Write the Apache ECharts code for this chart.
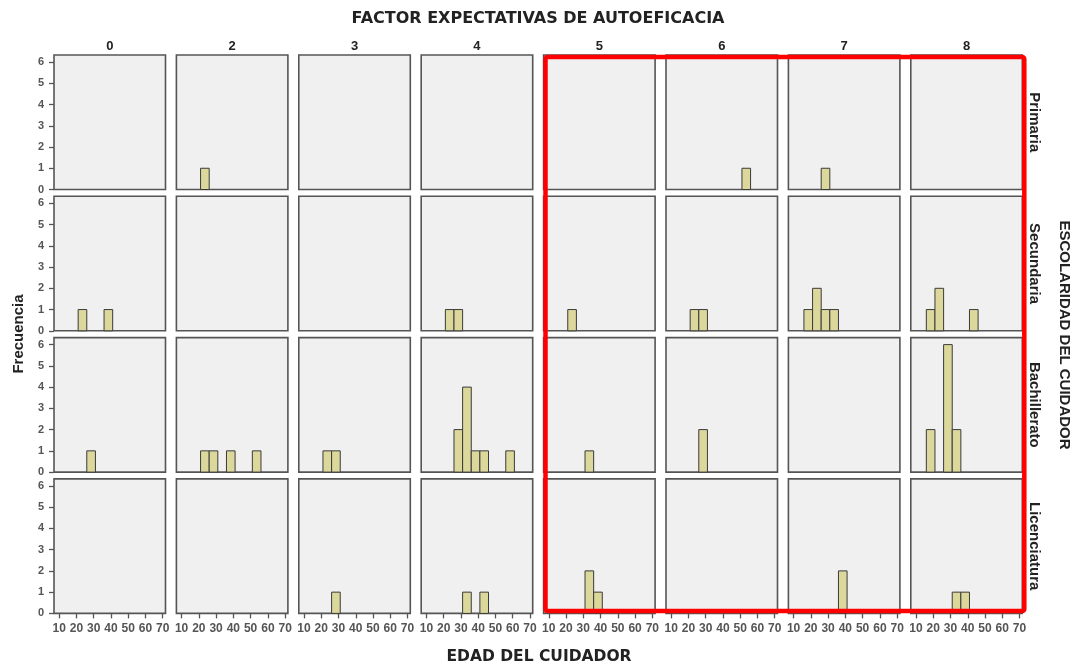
<!DOCTYPE html>
<html>
<head>
<meta charset="utf-8">
<script src="https://cdn.jsdelivr.net/npm/echarts@6/dist/echarts.min.js"></script>
<style>html,body{margin:0;padding:0;background:#fff;}#chart{width:1072px;height:664px;}</style>
</head>
<body>
<div id="chart"></div>
<script>
// Column facets (FACTOR EXPECTATIVAS DE AUTOEFICACIA)
var factorLevels = ['0', '2', '3', '4', '5', '6', '7', '8'];
// Row facets (ESCOLARIDAD DEL CUIDADOR)
var schoolLevels = ['Primaria', 'Secundaria', 'Bachillerato', 'Licenciatura'];
// Histogram bins of EDAD DEL CUIDADOR (start of each bin), width 5
var binStarts = [16, 21, 26, 31, 36, 41, 46, 51, 56, 61];
var binWidth = 5;
var xTicks = [10, 20, 30, 40, 50, 60, 70];
var yTicks = [0, 1, 2, 3, 4, 5, 6];

// Counts per bin, one array per factor level, for each schooling level
var primaria = [
  [0,0,0,0,0,0,0,0,0,0],
  [0,1,0,0,0,0,0,0,0,0],
  [0,0,0,0,0,0,0,0,0,0],
  [0,0,0,0,0,0,0,0,0,0],
  [0,0,0,0,0,0,0,0,0,0],
  [0,0,0,0,0,0,0,1,0,0],
  [0,0,1,0,0,0,0,0,0,0],
  [0,0,0,0,0,0,0,0,0,0]
];
var secundaria = [
  [0,1,0,0,1,0,0,0,0,0],
  [0,0,0,0,0,0,0,0,0,0],
  [0,0,0,0,0,0,0,0,0,0],
  [0,1,1,0,0,0,0,0,0,0],
  [0,1,0,0,0,0,0,0,0,0],
  [0,1,1,0,0,0,0,0,0,0],
  [1,2,1,1,0,0,0,0,0,0],
  [1,2,0,0,0,1,0,0,0,0]
];
var bachillerato = [
  [0,0,1,0,0,0,0,0,0,0],
  [0,1,1,0,1,0,0,1,0,0],
  [0,1,1,0,0,0,0,0,0,0],
  [0,0,2,4,1,1,0,0,1,0],
  [0,0,0,1,0,0,0,0,0,0],
  [0,0,2,0,0,0,0,0,0,0],
  [0,0,0,0,0,0,0,0,0,0],
  [2,0,6,2,0,0,0,0,0,0]
];
var licenciatura = [
  [0,0,0,0,0,0,0,0,0,0],
  [0,0,0,0,0,0,0,0,0,0],
  [0,0,1,0,0,0,0,0,0,0],
  [0,0,0,1,0,1,0,0,0,0],
  [0,0,0,2,1,0,0,0,0,0],
  [0,0,0,0,0,0,0,0,0,0],
  [0,0,0,0,2,0,0,0,0,0],
  [0,0,0,1,1,0,0,0,0,0]
];
var rowsData = [primaria, secundaria, bachillerato, licenciatura];

var colLeft0 = 54, colPitch = 122.4, panelW = 111.5;
var rowTop0 = 55, rowPitch = 141.3, panelH = 134.5;
var FONT = '"Liberation Sans", Arial, sans-serif';
var FONT_WIDE = '"DejaVu Sans", "Liberation Sans", sans-serif';

var grids = [], xAxes = [], yAxes = [], series = [], graphics = [];
for (var r = 0; r < schoolLevels.length; r++) {
  for (var c = 0; c < factorLevels.length; c++) {
    var idx = r * factorLevels.length + c;
    grids.push({
      left: colLeft0 + c * colPitch, top: rowTop0 + r * rowPitch, width: panelW, height: panelH,
      show: true, backgroundColor: '#f0f0f0', borderColor: '#555555', borderWidth: 1.6
    });
    var bottomRow = (r === schoolLevels.length - 1);
    xAxes.push({
      type: 'value', gridIndex: idx, min: 7, max: 71.6,
      axisLine: {show: false},
      axisTick: {show: bottomRow, customValues: xTicks, length: 5, lineStyle: {color: '#555', width: 1.3}},
      axisLabel: {show: bottomRow, customValues: xTicks, color: '#555', fontSize: 12, fontWeight: 'bold', fontFamily: FONT, margin: 9},
      splitLine: {show: false}
    });
    var firstCol = (c === 0);
    yAxes.push({
      type: 'value', gridIndex: idx, min: 0, max: 6.33,
      axisLine: {show: false},
      axisTick: {show: firstCol, customValues: yTicks, length: 5, lineStyle: {color: '#555', width: 1.3}},
      axisLabel: {show: firstCol, customValues: yTicks, color: '#555', fontSize: 11, fontWeight: 'bold', fontFamily: FONT, margin: 10},
      splitLine: {show: false}
    });
    var counts = rowsData[r][c];
    var data = [];
    for (var b = 0; b < binStarts.length; b++) {
      if (counts[b] > 0) data.push([binStarts[b], binStarts[b] + binWidth, counts[b]]);
    }
    series.push({
      type: 'custom', xAxisIndex: idx, yAxisIndex: idx, data: data, silent: true,
      renderItem: function (params, api) {
        var p0 = api.coord([api.value(0), api.value(2)]);
        var p1 = api.coord([api.value(1), 0]);
        return {
          type: 'rect',
          shape: {x: p0[0], y: p0[1], width: p1[0] - p0[0], height: p1[1] - p0[1]},
          style: {fill: '#dcd89c', stroke: '#3a3a3a', lineWidth: 1}
        };
      }
    });
  }
}
for (var c2 = 0; c2 < factorLevels.length; c2++) {
  graphics.push({
    type: 'text', x: colLeft0 + c2 * colPitch + panelW / 2, y: 46,
    style: {text: factorLevels[c2], fontSize: 13, fontWeight: 'bold', fontFamily: FONT, fill: '#222', align: 'center', verticalAlign: 'middle'}
  });
}
for (var r2 = 0; r2 < schoolLevels.length; r2++) {
  graphics.push({
    type: 'text', x: 1034, y: rowTop0 + r2 * rowPitch + panelH / 2, rotation: -Math.PI / 2,
    style: {text: schoolLevels[r2], fontSize: 15, fontWeight: 'bold', fontFamily: FONT, fill: '#222', align: 'center', verticalAlign: 'middle'}
  });
}
graphics.push({
  type: 'text', x: 538, y: 19,
  style: {text: 'FACTOR EXPECTATIVAS DE AUTOEFICACIA', fontSize: 16, fontWeight: 'bold', fontFamily: FONT_WIDE, fill: '#222', align: 'center', verticalAlign: 'middle'}
});
graphics.push({
  type: 'text', x: 1064, y: 335, rotation: -Math.PI / 2,
  style: {text: 'ESCOLARIDAD DEL CUIDADOR', fontSize: 15, fontWeight: 'bold', fontFamily: FONT, fill: '#222', align: 'center', verticalAlign: 'middle'}
});
graphics.push({
  type: 'text', x: 19, y: 334, rotation: Math.PI / 2,
  style: {text: 'Frecuencia', fontSize: 15, fontWeight: 'bold', fontFamily: FONT, fill: '#222', align: 'center', verticalAlign: 'middle'}
});
graphics.push({
  type: 'text', x: 539, y: 657,
  style: {text: 'EDAD DEL CUIDADOR', fontSize: 15.5, fontWeight: 'bold', fontFamily: FONT_WIDE, fill: '#222', align: 'center', verticalAlign: 'middle'}
});
graphics.push({
  type: 'rect', z: 100,
  shape: {x: 545.5, y: 57, width: 478.8, height: 554, r: 2},
  style: {fill: 'none', stroke: '#ff0000', lineWidth: 4.5}
});

var chart = echarts.init(document.getElementById('chart'), null, {renderer: 'canvas'});
chart.setOption({
  animation: false,
  backgroundColor: '#ffffff',
  grid: grids,
  xAxis: xAxes,
  yAxis: yAxes,
  series: series,
  graphic: {elements: graphics}
});
</script>
</body>
</html>
